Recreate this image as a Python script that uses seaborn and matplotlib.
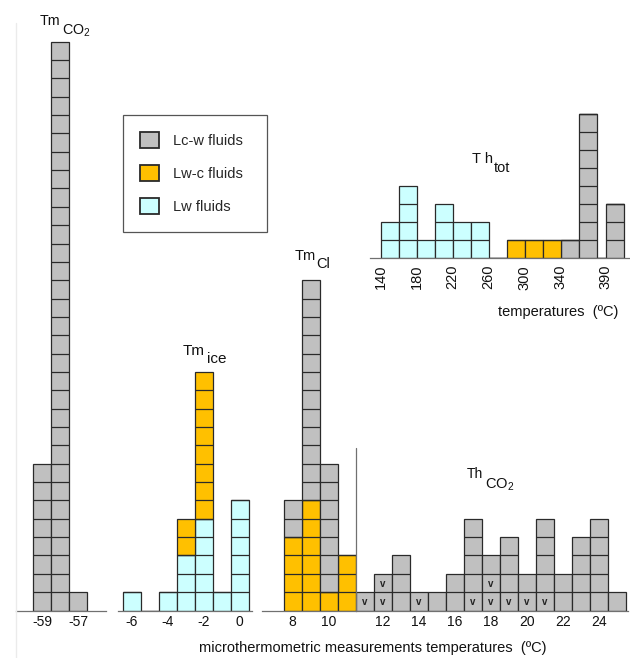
import matplotlib
matplotlib.use("Agg")
import matplotlib.pyplot as plt
from matplotlib.patches import Patch, Rectangle
import pandas as pd
import seaborn as sns

LCW, LWC, LW = "Lc-w fluids", "Lw-c fluids", "Lw fluids"
palette = {LCW: "#c0c0c0", LWC: "#ffc000", LW: "#ccffff"}
EDGE = "#2a2a2a"
AXIS = "#707070"

# ---- microthermometric counts (number of inclusions per 1 degree C class) ----
tmco2_temp = [-59, -58, -57]
tmco2_lcw = [8, 31, 1]

tmice_temp = [-6, -5, -4, -3, -2, -1, 0]
tmice_lw = [1, 0, 1, 3, 5, 1, 6]
tmice_lwc = [0, 0, 0, 2, 8, 0, 0]

tmcl_temp = [8, 9, 10, 11]
tmcl_lwc = [4, 6, 1, 3]
tmcl_lcw = [2, 12, 7, 0]

thco2_temp = [11, 12, 13, 14, 15, 16, 17, 18, 19, 20, 21, 22, 23, 24, 25]
thco2_lcw = [1, 2, 3, 1, 1, 2, 5, 3, 4, 2, 5, 2, 4, 5, 1]
thco2_vapour = [1, 2, 0, 1, 0, 0, 1, 2, 1, 1, 1, 0, 0, 0, 0]  # homogenisation to vapour

# ---- total homogenisation (20 degree C classes) ----
thtot_lo = [140, 160, 180, 200, 220, 240, 280, 300, 320, 340, 360, 390]
thtot_hi = [160, 180, 200, 220, 240, 260, 300, 320, 340, 360, 380, 410]
thtot_lw = [2, 4, 1, 3, 2, 2, 0, 0, 0, 0, 0, 0]
thtot_lwc = [0, 0, 0, 0, 0, 0, 1, 1, 1, 0, 0, 0]
thtot_lcw = [0, 0, 0, 0, 0, 0, 0, 0, 0, 1, 8, 3]
thtot_edges = [140, 160, 180, 200, 220, 240, 260, 280, 300, 320, 340, 360, 380, 390, 410]
thtot_ticks = [140, 180, 220, 260, 300, 340, 390]

W, H = 630, 658
sns.set_style("white")
plt.rcParams["font.family"] = ["Liberation Sans", "DejaVu Sans"]
plt.rcParams["mathtext.default"] = "regular"

fig = plt.figure(figsize=(W / 100, H / 100), dpi=100)


def px_axes(x0, x1, ytop, ybot):
    return fig.add_axes([x0 / W, 1 - ybot / H, (x1 - x0) / W, (ybot - ytop) / H])


def long_frame(temps, series):
    rows = []
    for fluid, counts in series:
        for t, n in zip(temps, counts):
            rows.append({"temp": t, "fluid": fluid, "n": n})
    return pd.DataFrame(rows)


def cells(ax, df, order, bins=None, spans=None):
    kw = dict(discrete=True) if bins is None else dict(bins=bins)
    sns.histplot(data=df, x="temp", weights="n", hue="fluid", hue_order=order,
                 palette=palette, multiple="stack", shrink=1, element="bars",
                 alpha=1, edgecolor=EDGE, linewidth=0.9, legend=False, ax=ax, **kw)
    totals = df.groupby("temp")["n"].sum()
    for t, h in totals.items():
        lo, hi = (t - 0.5, t + 0.5) if spans is None else spans[t]
        for k in range(1, int(h)):
            ax.hlines(k, lo, hi, color=EDGE, lw=0.9, zorder=3)


def style(ax, ticks, rot=0, size=10, pad=3):
    for s in ("top", "right", "left"):
        ax.spines[s].set_visible(False)
    ax.spines["bottom"].set_color(AXIS)
    ax.spines["bottom"].set_linewidth(0.9)
    ax.set_xticks(ticks)
    ax.set_xticklabels([str(t) for t in ticks], rotation=rot)
    ax.tick_params(axis="x", length=0, pad=pad, labelsize=size, labelcolor="#111111")
    ax.set_yticks([])
    ax.set_xlabel("")
    ax.set_ylabel("")
    ax.set_facecolor("none")


YTOP, YBASE, UNIT_Y = 20, 610.5, 18.35
YMAX = (YBASE - YTOP) / UNIT_Y


def xlim_from(x0, x1, ref_val, ref_px, unit_px, step=1.0):
    return (ref_val - (ref_px - x0) / unit_px * step, ref_val + (x1 - ref_px) / unit_px * step)


# faint left frame line
fig.add_artist(plt.Line2D([16 / W, 16 / W], [1 - 658 / H, 1 - 23 / H],
                          transform=fig.transFigure, color="#ebebeb", lw=1))

# Tm CO2
ax1 = px_axes(16, 106, YTOP, YBASE)
cells(ax1, long_frame(tmco2_temp, [(LCW, tmco2_lcw)]), [LCW])
ax1.set_xlim(*xlim_from(16, 106, -59, 41.9, 18.1))
ax1.set_ylim(0, YMAX)
style(ax1, [-59, -57])

# Tm ice
ax2 = px_axes(118, 252, YTOP, YBASE)
cells(ax2, long_frame(tmice_temp, [(LWC, tmice_lwc), (LW, tmice_lw)]), [LWC, LW])
ax2.set_xlim(*xlim_from(118, 252, -6, 131.7, 18))
ax2.set_ylim(0, YMAX)
style(ax2, [-6, -4, -2, 0])

# Tm Cl
ax3 = px_axes(262, 356, YTOP, YBASE)
cells(ax3, long_frame(tmcl_temp, [(LCW, tmcl_lcw), (LWC, tmcl_lwc)]), [LCW, LWC])
ax3.set_xlim(*xlim_from(262, 356, 8, 292.5, 18))
ax3.set_ylim(0, YMAX)
style(ax3, [8, 10])

# Th CO2
ax4 = px_axes(356, 628, YTOP, YBASE)
cells(ax4, long_frame(thco2_temp, [(LCW, thco2_lcw)]), [LCW])
ax4.set_xlim(*xlim_from(356, 628, 11, 365, 18))
ax4.set_ylim(0, YMAX)
style(ax4, [12, 14, 16, 18, 20, 22, 24])
ax4.plot([10.5, 10.5], [0, 8.86], color=AXIS, lw=0.9, clip_on=False)
for t, nv in zip(thco2_temp, thco2_vapour):
    for k in range(nv):
        ax4.text(t, k + 0.45, "v", ha="center", va="center", fontsize=7,
                 fontweight="bold", color="#222222", zorder=4)

# Th tot
ax5 = px_axes(370, 630, 100, 258)
mids = [(a + b) / 2 for a, b in zip(thtot_lo, thtot_hi)]
spans = {m: (a, b) for m, a, b in zip(mids, thtot_lo, thtot_hi)}
df5 = long_frame(mids, [(LW, thtot_lw), (LWC, thtot_lwc), (LCW, thtot_lcw)])
cells(ax5, df5, [LW, LWC, LCW], bins=thtot_edges, spans=spans)
ax5.set_xlim(*xlim_from(370, 630, 140, 380.7, 18, step=20))
ax5.set_ylim(0, (258 - 100) / 17.96)
style(ax5, thtot_ticks, rot=90, size=10.5, pad=5)


def ftext(x, y, s, size=10, **kw):
    fig.text(x / W, 1 - y / H, s, fontsize=size, va="baseline", ha="left", color="#111111", **kw)


# panel titles
ftext(40, 25, "Tm", 10.3)
ftext(62, 35, "CO$_{2}$", 10.3)
ftext(183, 355, "Tm", 11)
ftext(207, 363.3, "ice", 11)
ftext(295, 260, "Tm", 10.5)
ftext(316, 268, "Cl", 10.5)
ftext(467, 478.3, "Th", 10)
ftext(485, 488.3, "CO$_{2}$", 10.5)
ftext(472, 163.3, "T h", 10.5)
ftext(494, 171.7, "tot", 10.5)

fig.text(373 / W, 1 - 648 / H, "microthermometric measurements temperatures  (ºC)",
         ha="center", va="center", fontsize=10.5, color="#111111")
fig.text(558 / W, 1 - 312 / H, "temperatures  (ºC)",
         ha="center", va="center", fontsize=10.5, color="#111111")

# legend
handles = [Patch(facecolor=palette[f], edgecolor=EDGE, linewidth=1.3) for f in (LCW, LWC, LW)]
fig.legend(handles, [LCW, LWC, LW], loc="upper left",
           bbox_to_anchor=(140 / W, 1 - 132 / H), frameon=False,
           handlelength=1.3, handleheight=1.3, handletextpad=0.96,
           labelspacing=1.17, borderpad=0, borderaxespad=0, fontsize=10.5)
fig.add_artist(Rectangle((123 / W, 1 - 232 / H), 144 / W, 117 / H, transform=fig.transFigure,
                         fill=False, edgecolor="#555555", lw=0.9))

fig.savefig("out.png", dpi=100, facecolor="white")
